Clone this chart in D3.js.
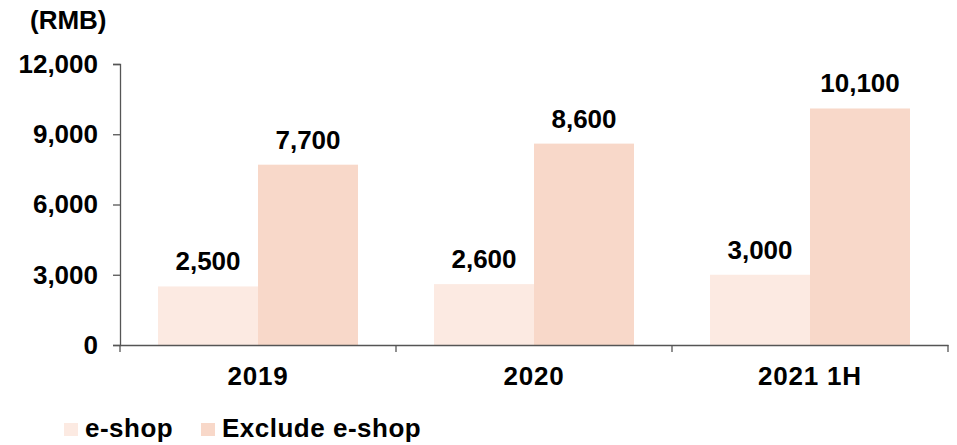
<!DOCTYPE html>
<html><head><meta charset="utf-8">
<script src="https://cdn.jsdelivr.net/npm/d3@7"></script>
<style>body{margin:0;background:#fff}svg{display:block;font-family:"Liberation Sans",Arial,sans-serif;font-weight:bold}</style>
</head><body><svg id="c" width="957" height="445"></svg>
<script>
const categories = ["2019", "2020", "2021 1H"];
const seriesNames = ["e-shop", "Exclude e-shop"];
const eshop = [2500, 2600, 3000];
const excludeEshop = [7700, 8600, 10100];
const yTicks = [0, 3000, 6000, 9000, 12000];
const colors = ["#FCEAE2", "#F8D8C9"];

const FS = 26;
const svg = d3.select("#c");
const x0 = d3.scaleBand().domain(categories).range([120, 948]).paddingInner(0).paddingOuter(0);
const x1 = d3.scaleBand().domain(seriesNames).range([38, x0.bandwidth() - 38]);
const y = d3.scaleLinear().domain([0, 12000]).range([345, 64]);
const fmt = d3.format(",");

// bars
const data = categories.map((c, i) => ({c, vals: [eshop[i], excludeEshop[i]]}));
const g = svg.append("g");
data.forEach(d => {
  d.vals.forEach((v, j) => {
    const xp = x0(d.c) + x1(seriesNames[j]);
    g.append("rect").attr("x", xp).attr("y", y(v)).attr("width", x1.bandwidth()).attr("height", y(0) - y(v)).attr("fill", colors[j]);
    g.append("text").attr("x", xp + x1.bandwidth() / 2).attr("y", y(v) - 16).attr("text-anchor", "middle")
      .attr("font-size", FS).attr("fill", "#000").text(fmt(v));
  });
});

// y axis
const ya = svg.append("g").attr("transform", "translate(120,0)")
  .call(d3.axisLeft(y).tickValues(yTicks).tickFormat(fmt).tickSize(7).tickPadding(15));
ya.select(".domain").attr("stroke", "#555").attr("stroke-width", 1.3);
ya.selectAll(".tick line").attr("stroke", "#555").attr("stroke-width", 1.3);
ya.selectAll(".tick text").attr("font-size", FS).attr("fill", "#000").attr("font-family", "Liberation Sans, Arial, sans-serif").attr("font-weight", "bold");

// x axis
const xa = svg.append("g").attr("transform", "translate(0,345)")
  .call(d3.axisBottom(x0).tickSize(0).tickPadding(22));
xa.select(".domain").attr("stroke", "#555").attr("stroke-width", 1.3);
xa.selectAll(".tick text").attr("font-size", FS).attr("fill", "#000").attr("font-family", "Liberation Sans, Arial, sans-serif").attr("font-weight", "bold").attr("letter-spacing", "0.8px");
// category separators
const seps = [x0.range()[0]].concat(categories.map(c => x0(c) + x0.bandwidth()));
svg.append("g").selectAll("line").data(seps).join("line")
  .attr("x1", d => d).attr("x2", d => d).attr("y1", 345).attr("y2", 352)
  .attr("stroke", "#555").attr("stroke-width", 1.3);

// unit label
svg.append("text").attr("x", 30).attr("y", 29).attr("font-size", FS).attr("fill", "#000").text("(RMB)");

// legend
const legX = [64, 201];
seriesNames.forEach((s, j) => {
  svg.append("rect").attr("x", legX[j]).attr("y", 423).attr("width", 14).attr("height", 13).attr("fill", colors[j]);
  svg.append("text").attr("x", legX[j] + 21).attr("y", 437).attr("font-size", FS).attr("fill", "#000").attr("letter-spacing", "0.5px").text(s);
});
</script></body></html>
